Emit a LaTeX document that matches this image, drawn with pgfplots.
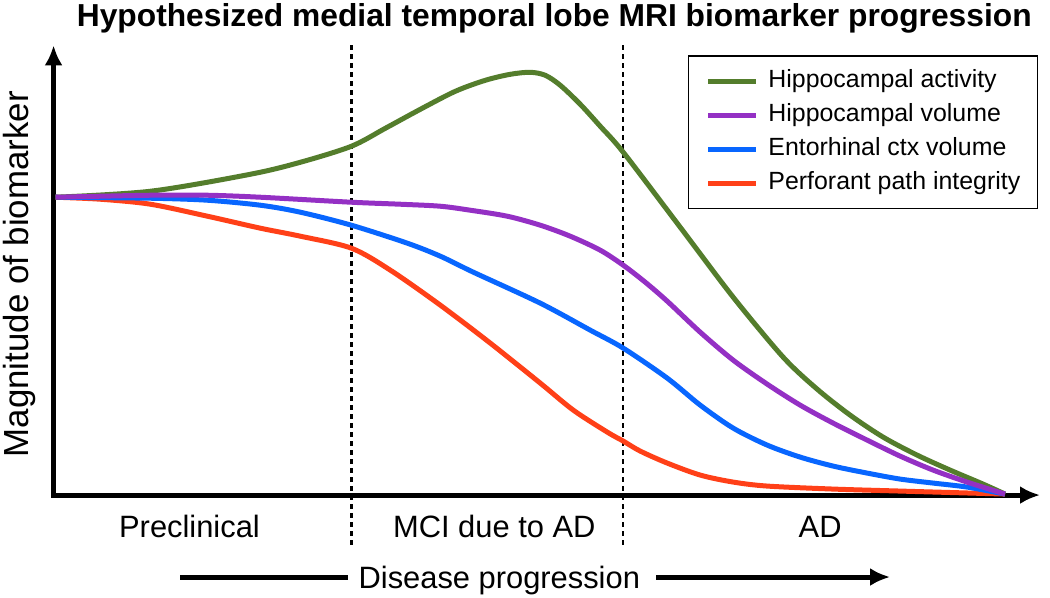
\documentclass[border=0pt]{standalone}
\usepackage{fontspec}
\setmainfont{Liberation Sans}
\usepackage{pgfplots}
\pgfplotsset{compat=1.18}
\usetikzlibrary{arrows.meta}
\definecolor{cgreen}{RGB}{84,125,44}
\definecolor{cpurple}{RGB}{148,48,196}
\definecolor{cblue}{RGB}{8,102,255}
\definecolor{cred}{RGB}{255,64,24}
\begin{document}
\begin{tikzpicture}
\begin{axis}[
  width=987bp, height=450bp, scale only axis,
  xmin=53, xmax=1040, ymin=101, ymax=551,
  axis lines=left, xtick=\empty, ytick=\empty,
  axis line style={line width=5bp, line cap=rect, -{Latex[length=20bp,width=18bp]}},
  clip=false,
  legend style={at={(0.998,0.978)}, anchor=north east, draw=black, line width=1.5bp,
    font=\fontsize{25}{28}\selectfont, inner xsep=17bp, inner ysep=13.5bp,
    row sep=10.5bp, column sep=10bp,
    nodes={inner sep=0bp, text height=18.5bp, text depth=5bp}},
  legend cell align=left,
  legend image code/.code={\draw[#1, line width=5bp] (0bp,0bp) -- (48bp,0bp);},
]
\path (axis cs:0,0) rectangle (axis cs:1050,596);
\addlegendimage{cgreen}\addlegendentry{Hippocampal activity}
\addlegendimage{cpurple}\addlegendentry{Hippocampal volume}
\addlegendimage{cblue}\addlegendentry{Entorhinal ctx volume}
\addlegendimage{cred}\addlegendentry{Perforant path integrity}

\draw[dash pattern=on 5bp off 4bp, line width=2.5bp] (axis cs:351,551) -- (axis cs:351,50);
\draw[dash pattern=on 5bp off 4bp, line width=2.5bp] (axis cs:623,551) -- (axis cs:623,50);

\addplot[forget plot, cred, line width=5bp, smooth] coordinates {
(55,399)(100,397)(150,392)(207,380)(260,368)(300,360)(351,348)(390,326)(440,291)(490,253)(540,213)(573,186)(607,164)(623,155)(640,145)(667,133)(700,121)(733,114)(767,110)(833,107)(900,105)(1005,102)};
\addplot[forget plot, cblue, line width=5bp, smooth] coordinates {
(55,399)(150,398)(207,396)(260,391)(300,384)(351,371)(407,353)(440,340)(473,324)(540,293)(590,266)(623,248)(667,218)(700,191)(733,168)(767,151)(800,139)(833,130)(867,123)(900,117)(933,113)(967,109)(1005,102)};
\addplot[forget plot, cgreen, line width=5bp, smooth] coordinates {
(55,399)(150,405)(250,422)(300,434)(351,450)(385,468)(420,487)(455,505)(485,516)(510,522)(530,524)(545,521)(560,511)(580,492)(600,470)(623,444)(680,369)(733,299)(783,239)(817,207)(850,181)(883,159)(917,141)(950,126)(983,112)(1005,102)};
\addplot[forget plot, cpurple, line width=5bp, smooth] coordinates {
(55,399)(150,401)(207,401)(260,399)(351,394)(400,392)(440,390)(470,386)(507,380)(540,371)(570,360)(600,346)(623,331)(645,314)(667,295)(700,264)(733,236)(767,212)(800,191)(833,173)(867,156)(900,140)(933,126)(967,114)(1005,102)};

\node[anchor=base, font=\fontsize{31.9}{36}\selectfont\bfseries] at (axis cs:554,570) {Hypothesized medial temporal lobe MRI biomarker progression};
\node[anchor=base, rotate=90, font=\fontsize{35}{40}\selectfont] at (axis cs:28,322) {Magnitude of biomarker};
\node[anchor=base, font=\fontsize{31}{36}\selectfont] at (axis cs:189,59) {Preclinical};
\node[anchor=base, font=\fontsize{31}{36}\selectfont] at (axis cs:494,59) {MCI due to AD};
\node[anchor=base, font=\fontsize{31}{36}\selectfont] at (axis cs:820,59) {AD};
\node[anchor=base, font=\fontsize{31}{36}\selectfont] at (axis cs:499,8) {Disease progression};
\draw[line width=5bp] (axis cs:180,19) -- (axis cs:348,19);
\draw[line width=5bp, -{Latex[length=20bp,width=18bp]}] (axis cs:656,19) -- (axis cs:890,19);
\end{axis}
\end{tikzpicture}
\end{document}
